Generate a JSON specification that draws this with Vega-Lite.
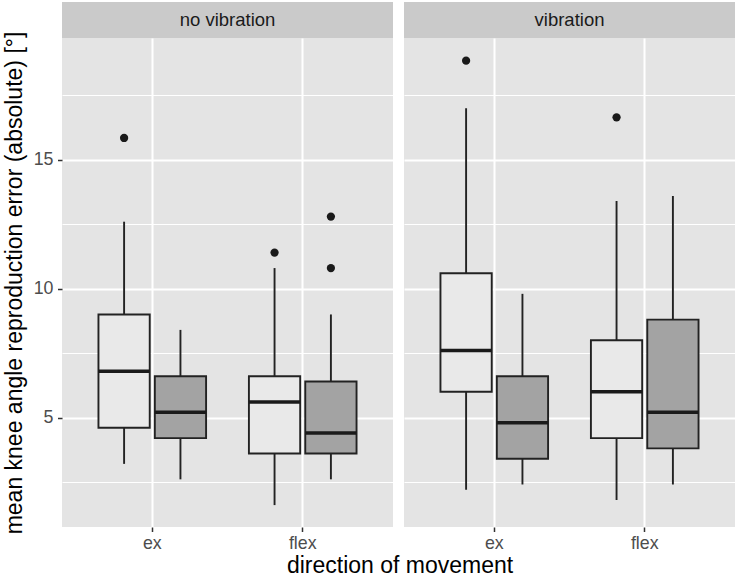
{
  "$schema": "https://vega.github.io/schema/vega-lite/v6.json",
  "background": "white",
  "padding": {"left": 3, "top": 2, "right": 1, "bottom": 0},
  "title": {"text": "direction of movement", "orient": "bottom", "anchor": "middle", "frame": "bounds", "fontSize": 23, "fontWeight": "normal", "font": "Liberation Sans", "color": "black", "offset": 3, "dx": 31},
  "datasets": {
    "boxes": [
      {"vibration": "no vibration", "direction": "ex", "group": "1", "lower": 3.2, "q1": 4.6, "median": 6.8, "q3": 9.0, "upper": 12.6},
      {"vibration": "no vibration", "direction": "ex", "group": "2", "lower": 2.6, "q1": 4.2, "median": 5.2, "q3": 6.6, "upper": 8.4},
      {"vibration": "no vibration", "direction": "flex", "group": "1", "lower": 1.6, "q1": 3.6, "median": 5.6, "q3": 6.6, "upper": 10.8},
      {"vibration": "no vibration", "direction": "flex", "group": "2", "lower": 2.6, "q1": 3.6, "median": 4.4, "q3": 6.4, "upper": 9.0},
      {"vibration": "vibration", "direction": "ex", "group": "1", "lower": 2.2, "q1": 6.0, "median": 7.6, "q3": 10.6, "upper": 17.0},
      {"vibration": "vibration", "direction": "ex", "group": "2", "lower": 2.4, "q1": 3.4, "median": 4.8, "q3": 6.6, "upper": 9.8},
      {"vibration": "vibration", "direction": "flex", "group": "1", "lower": 1.8, "q1": 4.2, "median": 6.0, "q3": 8.0, "upper": 13.4},
      {"vibration": "vibration", "direction": "flex", "group": "2", "lower": 2.4, "q1": 3.8, "median": 5.2, "q3": 8.8, "upper": 13.6}
    ],
    "outliers": [
      {"vibration": "no vibration", "direction": "ex", "group": "1", "value": 15.85},
      {"vibration": "no vibration", "direction": "flex", "group": "1", "value": 11.4},
      {"vibration": "no vibration", "direction": "flex", "group": "2", "value": 12.8},
      {"vibration": "no vibration", "direction": "flex", "group": "2", "value": 10.8},
      {"vibration": "vibration", "direction": "ex", "group": "1", "value": 18.85},
      {"vibration": "vibration", "direction": "flex", "group": "1", "value": 16.65}
    ],
    "strips": [
      {"vibration": "no vibration"},
      {"vibration": "vibration"}
    ]
  },
  "config": {
    "font": "Liberation Sans",
    "view": {"stroke": null, "fill": "#E4E4E4"},
    "axis": {
      "domain": false,
      "gridColor": "white",
      "tickColor": "#333333",
      "labelColor": "#4D4D4D",
      "labelFont": "Liberation Sans",
      "labelFontSize": 17.8,
      "titleFont": "Liberation Sans",
      "titleFontSize": 23,
      "titleFontWeight": "normal",
      "titleColor": "black",
      "tickSize": 4.5,
      "tickWidth": 1.5
    }
  },
  "spacing": 11,
  "hconcat": [
    {
      "spacing": 0,
      "bounds": "flush",
      "vconcat": [
        {
          "width": 331, "height": 36,
          "view": {"fill": "#CACACA", "stroke": null},
          "data": {"name": "strips"},
          "transform": [{"filter": "datum.vibration === 'no vibration'"}],
          "mark": {"type": "text", "fontSize": 18.5, "color": "#1A1A1A", "baseline": "middle", "align": "center"},
          "encoding": {"text": {"field": "vibration"}}
        },
        {
          "width": 331, "height": 489,
          "encoding": {
            "x": {"field": "direction", "type": "nominal",
                  "scale": {"domain": ["ex", "flex"], "paddingInner": 0, "paddingOuter": 0.1},
                  "axis": {"title": null, "labelAngle": 0, "bandPosition": 0.5, "gridWidth": 2, "grid": true, "labelPadding": 3}},
            "xOffset": {"field": "group", "type": "nominal",
                  "scale": {"domain": ["1", "2"], "paddingInner": 0.09, "paddingOuter": 0.38}}
          },
          "layer": [
            {
              "data": {"name": "boxes"},
              "transform": [{"filter": "datum.vibration === 'no vibration'"}],
              "mark": {"type": "rule", "color": "#222222", "strokeWidth": 1.9},
              "encoding": {
                "y": {"field": "lower", "type": "quantitative",
                      "scale": {"domain": [0.75, 19.73], "nice": false, "zero": false},
                      "axis": {"title": "mean knee angle reproduction error (absolute) [°]",
                               "values": [2.5, 5, 7.5, 10, 12.5, 15, 17.5],
                               "labelExpr": "datum.value % 5 === 0 ? toString(datum.value) : ''",
                               "gridWidth": {"condition": {"test": "datum.value % 5 === 0", "value": 2}, "value": 1},
                               "tickOpacity": {"condition": {"test": "datum.value % 5 === 0", "value": 1}, "value": 0},
                               "labelPadding": 4.5, "titlePadding": 7}},
                "y2": {"field": "upper"}
              }
            },
            {
              "data": {"name": "boxes"},
              "transform": [{"filter": "datum.vibration === 'no vibration'"}],
              "mark": {"type": "bar", "stroke": "#222222", "strokeWidth": 1.9},
              "encoding": {
                "y": {"field": "q1", "type": "quantitative"},
                "y2": {"field": "q3"},
                "fill": {"field": "group", "type": "nominal", "scale": {"domain": ["1", "2"], "range": ["#E9E9E9", "#A3A3A3"]}, "legend": null}
              }
            },
            {
              "data": {"name": "boxes"},
              "transform": [{"filter": "datum.vibration === 'no vibration'"}],
              "mark": {"type": "tick", "color": "#1A1A1A", "thickness": 3.5, "size": 51, "opacity": 1},
              "encoding": {
                "y": {"field": "median", "type": "quantitative"}
              }
            },
            {
              "data": {"name": "outliers"},
              "transform": [{"filter": "datum.vibration === 'no vibration'"}],
              "mark": {"type": "point", "filled": true, "color": "#1A1A1A", "size": 68, "opacity": 1},
              "encoding": {
                "y": {"field": "value", "type": "quantitative"}
              }
            }
          ]
        }
      ]
    },
    {
      "spacing": 0,
      "bounds": "flush",
      "vconcat": [
        {
          "width": 331, "height": 36,
          "view": {"fill": "#CACACA", "stroke": null},
          "data": {"name": "strips"},
          "transform": [{"filter": "datum.vibration === 'vibration'"}],
          "mark": {"type": "text", "fontSize": 18.5, "color": "#1A1A1A", "baseline": "middle", "align": "center"},
          "encoding": {"text": {"field": "vibration"}}
        },
        {
          "width": 331, "height": 489,
          "encoding": {
            "x": {"field": "direction", "type": "nominal",
                  "scale": {"domain": ["ex", "flex"], "paddingInner": 0, "paddingOuter": 0.1},
                  "axis": {"title": null, "labelAngle": 0, "bandPosition": 0.5, "gridWidth": 2, "grid": true, "labelPadding": 3}},
            "xOffset": {"field": "group", "type": "nominal",
                  "scale": {"domain": ["1", "2"], "paddingInner": 0.09, "paddingOuter": 0.38}}
          },
          "layer": [
            {
              "data": {"name": "boxes"},
              "transform": [{"filter": "datum.vibration === 'vibration'"}],
              "mark": {"type": "rule", "color": "#222222", "strokeWidth": 1.9},
              "encoding": {
                "y": {"field": "lower", "type": "quantitative",
                      "scale": {"domain": [0.75, 19.73], "nice": false, "zero": false},
                      "axis": {"title": null,
                               "values": [2.5, 5, 7.5, 10, 12.5, 15, 17.5],
                               "labels": false, "ticks": false,
                               "gridWidth": {"condition": {"test": "datum.value % 5 === 0", "value": 2}, "value": 1}}},
                "y2": {"field": "upper"}
              }
            },
            {
              "data": {"name": "boxes"},
              "transform": [{"filter": "datum.vibration === 'vibration'"}],
              "mark": {"type": "bar", "stroke": "#222222", "strokeWidth": 1.9},
              "encoding": {
                "y": {"field": "q1", "type": "quantitative"},
                "y2": {"field": "q3"},
                "fill": {"field": "group", "type": "nominal", "scale": {"domain": ["1", "2"], "range": ["#E9E9E9", "#A3A3A3"]}, "legend": null}
              }
            },
            {
              "data": {"name": "boxes"},
              "transform": [{"filter": "datum.vibration === 'vibration'"}],
              "mark": {"type": "tick", "color": "#1A1A1A", "thickness": 3.5, "size": 51, "opacity": 1},
              "encoding": {
                "y": {"field": "median", "type": "quantitative"}
              }
            },
            {
              "data": {"name": "outliers"},
              "transform": [{"filter": "datum.vibration === 'vibration'"}],
              "mark": {"type": "point", "filled": true, "color": "#1A1A1A", "size": 68, "opacity": 1},
              "encoding": {
                "y": {"field": "value", "type": "quantitative"}
              }
            }
          ]
        }
      ]
    }
  ]
}
